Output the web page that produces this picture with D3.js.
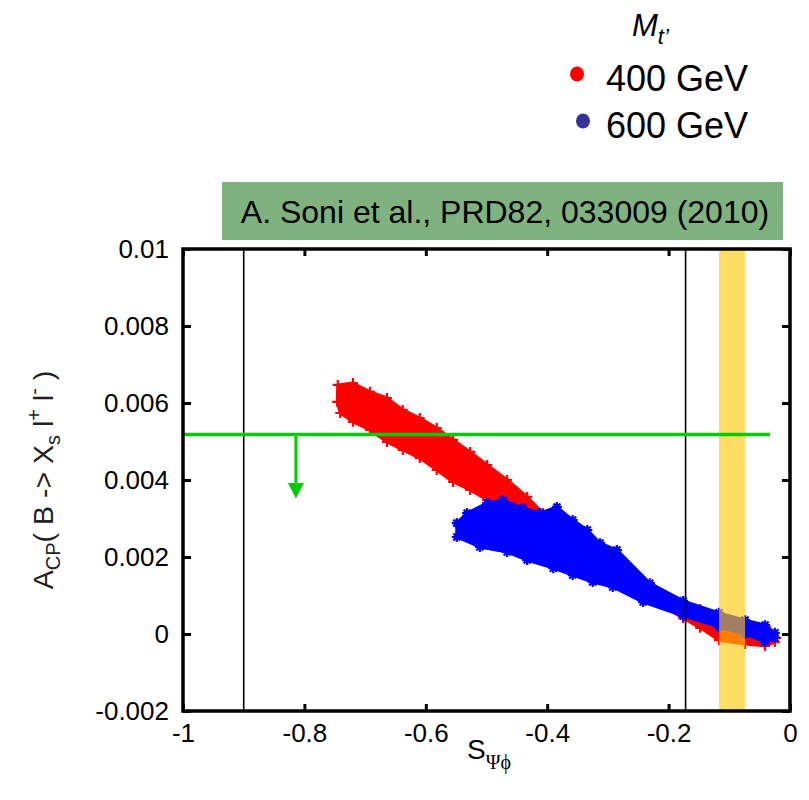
<!DOCTYPE html>
<html>
<head>
<meta charset="utf-8">
<script src="https://cdn.jsdelivr.net/npm/d3@7"></script>
<style>
  body { margin: 0; background: #fff; }
  text { font-family: "Liberation Sans", Arial, sans-serif; }
</style>
</head>
<body>
<script>
const width = 809
const height = 800
const plot = { left: 183, right: 790, top: 249, bottom: 711 }

// axis ticks
const xTicks = [-1, -0.8, -0.6, -0.4, -0.2, 0]
const xTickLabels = ["-1", "-0.8", "-0.6", "-0.4", "-0.2", "0"]
const yTicks = [-0.002, 0, 0.002, 0.004, 0.006, 0.008, 0.01]
const yTickLabels = ["-0.002", "0", "0.002", "0.004", "0.006", "0.008", "0.01"]

// edges of the scatter clouds [S, A_CP]
const red400Upper = [[-0.745, 0.00647], [-0.720, 0.00652], [-0.692, 0.00629], [-0.664, 0.00613],
  [-0.638, 0.00582], [-0.610, 0.00561], [-0.582, 0.00535], [-0.555, 0.00504], [-0.527, 0.00473],
  [-0.499, 0.00439], [-0.466, 0.00400], [-0.433, 0.00356], [-0.407, 0.00314], [-0.313, 0.00205],
  [-0.231, 0.00122], [-0.148, 0.00065], [-0.074, 0.00024], [-0.033, 0.00008], [-0.023, -0.00010]]
const red400Lower = [[-0.746, 0.00603], [-0.741, 0.00574], [-0.720, 0.00551], [-0.692, 0.00530],
  [-0.664, 0.00499], [-0.638, 0.00478], [-0.610, 0.00457], [-0.582, 0.00426], [-0.555, 0.00395],
  [-0.527, 0.00374], [-0.499, 0.00348], [-0.412, 0.00275], [-0.313, 0.00179], [-0.231, 0.00092],
  [-0.176, 0.00041], [-0.148, 0.00016], [-0.117, -0.00016], [-0.074, -0.00026], [-0.041, -0.00031],
  [-0.025, -0.00021]]
const blue600Upper = [[-0.549, 0.00288], [-0.532, 0.00314], [-0.499, 0.00340], [-0.473, 0.00348],
  [-0.440, 0.00327], [-0.412, 0.00314], [-0.384, 0.00330], [-0.358, 0.00296], [-0.334, 0.00270],
  [-0.313, 0.00236], [-0.285, 0.00218], [-0.231, 0.00132], [-0.176, 0.00086], [-0.117, 0.00055],
  [-0.074, 0.00036], [-0.041, 0.00023], [-0.025, 0.00003]]
const blue600Lower = [[-0.549, 0.00252], [-0.511, 0.00226], [-0.466, 0.00213], [-0.433, 0.00192],
  [-0.390, 0.00171], [-0.358, 0.00153], [-0.325, 0.00135], [-0.292, 0.00122], [-0.242, 0.00083],
  [-0.176, 0.00047], [-0.117, 0.00018], [-0.074, 0.00000], [-0.041, -0.00021], [-0.025, -0.00010]]

// reference lines / band
const boundLines = [-0.9, -0.172]
const measuredBand = [-0.117, -0.074]
const limitValue = 0.00518
const limitEnd = -0.033
const arrowX = -0.814
const arrowHeadTop = 0.00392
const arrowTip = 0.00352

const legendLabels = ["400 GeV", "600 GeV"]
const legendColors = ["#ff0000", "#333399"]
const seriesColors = ["#ff0000", "#0000ff"]

const svg = d3.select("body").append("svg")
    .attr("width", width)
    .attr("height", height)

const x = d3.scaleLinear().domain([-1, 0]).range([plot.left, plot.right])
const y = d3.scaleLinear().domain([-0.002, 0.01]).range([plot.bottom, plot.top])

const outline = d3.line().x(d => x(d[0])).y(d => y(d[1]))

function drawCloud(upper, lower, color, marker) {
    svg.append("path")
        .attr("d", outline(upper.concat(lower.slice().reverse())) + "Z")
        .attr("fill", color)
        .attr("stroke", color)
        .attr("stroke-width", 3)
        .attr("stroke-linejoin", "round")
    svg.append("g").selectAll("path")
        .data(upper.concat(lower))
        .join("path")
        .attr("transform", d => `translate(${x(d[0])},${y(d[1])})`)
        .attr("d", marker)
        .attr("stroke", color)
        .attr("stroke-width", 2.2)
        .attr("fill", "none")
}

drawCloud(red400Upper, red400Lower, seriesColors[0], "M-5,0H5M0,-5V5")
drawCloud(blue600Upper, blue600Lower, seriesColors[1], "M-5,0H5M0,-5V5M-3.5,-3.5L3.5,3.5M-3.5,3.5L3.5,-3.5")

// measured band on top of the points
svg.append("rect")
    .attr("x", x(measuredBand[0]))
    .attr("y", plot.top)
    .attr("width", x(measuredBand[1]) - x(measuredBand[0]))
    .attr("height", plot.bottom - plot.top)
    .attr("fill", "rgb(255,200,10)")
    .attr("opacity", 0.63)

svg.selectAll(".bound")
    .data(boundLines)
    .join("line")
    .attr("class", "bound")
    .attr("x1", d => x(d)).attr("x2", d => x(d))
    .attr("y1", plot.top).attr("y2", plot.bottom)
    .attr("stroke", "black")
    .attr("stroke-width", 1.6)

// green upper limit with arrow
const green = "#00cc00"
svg.append("line")
    .attr("x1", x(-1)).attr("x2", x(limitEnd))
    .attr("y1", y(limitValue)).attr("y2", y(limitValue))
    .attr("stroke", green).attr("stroke-width", 3.5)
svg.append("line")
    .attr("x1", x(arrowX)).attr("x2", x(arrowX))
    .attr("y1", y(limitValue)).attr("y2", y(arrowHeadTop))
    .attr("stroke", green).attr("stroke-width", 3)
svg.append("path")
    .attr("d", `M${x(arrowX) - 8},${y(arrowHeadTop)}L${x(arrowX) + 8},${y(arrowHeadTop)}L${x(arrowX)},${y(arrowTip)}Z`)
    .attr("fill", green)

// axes
const fmtX = (d, i) => xTickLabels[i]
const fmtY = (d, i) => yTickLabels[i]

const gx = svg.append("g").attr("transform", `translate(0,${plot.bottom})`)
    .call(d3.axisBottom(x).tickValues(xTicks).tickSizeInner(-7).tickSizeOuter(0).tickPadding(13).tickFormat(fmtX))
const gy = svg.append("g").attr("transform", `translate(${plot.left},0)`)
    .call(d3.axisLeft(y).tickValues(yTicks).tickSizeInner(-8).tickSizeOuter(0).tickPadding(14).tickFormat(fmtY))
const gt = svg.append("g").attr("transform", `translate(0,${plot.top})`)
    .call(d3.axisTop(x).tickValues(xTicks).tickSizeInner(-7).tickSizeOuter(0).tickFormat(""))
const gr = svg.append("g").attr("transform", `translate(${plot.right},0)`)
    .call(d3.axisRight(y).tickValues(yTicks).tickSizeInner(-8).tickSizeOuter(0).tickFormat(""))

for (const g of [gx, gy, gt, gr]) {
    g.select(".domain").remove()
    g.selectAll(".tick line").attr("stroke", "black").attr("stroke-width", 3)
    g.selectAll(".tick text")
        .attr("fill", "black")
        .style("font-family", "'Liberation Sans', Arial, sans-serif")
        .style("font-size", "26px")
}

svg.append("rect")
    .attr("x", plot.left).attr("y", plot.top)
    .attr("width", plot.right - plot.left).attr("height", plot.bottom - plot.top)
    .attr("fill", "none").attr("stroke", "black").attr("stroke-width", 3.5)

// axis titles
const xTitle = svg.append("text")
    .attr("x", 467).attr("y", 759)
    .style("font-size", "28px")
xTitle.append("tspan").text("S")
xTitle.append("tspan")
    .attr("dy", 10)
    .style("font-family", "'Liberation Serif', 'DejaVu Serif', serif")
    .style("font-size", "20px")
    .text("\u03A8\u03D5")

const yTitle = svg.append("text")
    .attr("transform", "translate(53,480) rotate(-90)")
    .attr("text-anchor", "middle")
    .attr("fill", "#222")
    .style("font-size", "28.5px")
yTitle.append("tspan").text("A")
yTitle.append("tspan").attr("dy", 7).style("font-size", "20px").text("CP")
yTitle.append("tspan").attr("dy", -7).text("( B -> X")
yTitle.append("tspan").attr("dy", 7).style("font-size", "20px").text("s")
yTitle.append("tspan").attr("dy", -7).text(" l")
yTitle.append("tspan").attr("dy", -12).style("font-size", "20px").text("+")
yTitle.append("tspan").attr("dy", 12).text(" l")
yTitle.append("tspan").attr("dy", -12).style("font-size", "20px").text("-")
yTitle.append("tspan").attr("dy", 12).text(" )")

// citation box
svg.append("rect")
    .attr("x", 222).attr("y", 182)
    .attr("width", 561).attr("height", 58)
    .attr("fill", "#7fb27f")
svg.append("text")
    .attr("x", 505).attr("y", 223)
    .attr("text-anchor", "middle")
    .style("font-size", "32px")
    .text("A. Soni et al., PRD82, 033009 (2010)")

// legend
const legTitle = svg.append("text")
    .attr("x", 632).attr("y", 36)
    .style("font-size", "31px")
    .style("font-style", "italic")
legTitle.append("tspan").text("M")
legTitle.append("tspan").attr("dy", 8).style("font-size", "22px").text("t\u2019")

const legend = svg.selectAll(".legend")
    .data(legendLabels)
    .join("g")
    .attr("class", "legend")
    .attr("transform", (d, i) => `translate(0,${i * 47})`)
legend.append("ellipse")
    .attr("cx", (d, i) => 577 + i * 6)
    .attr("cy", 74)
    .attr("rx", 7).attr("ry", 7.5)
    .attr("fill", (d, i) => legendColors[i])
legend.append("text")
    .attr("x", 606).attr("y", 91)
    .style("font-size", "36px")
    .text(d => d)
</script>
</body>
</html>
